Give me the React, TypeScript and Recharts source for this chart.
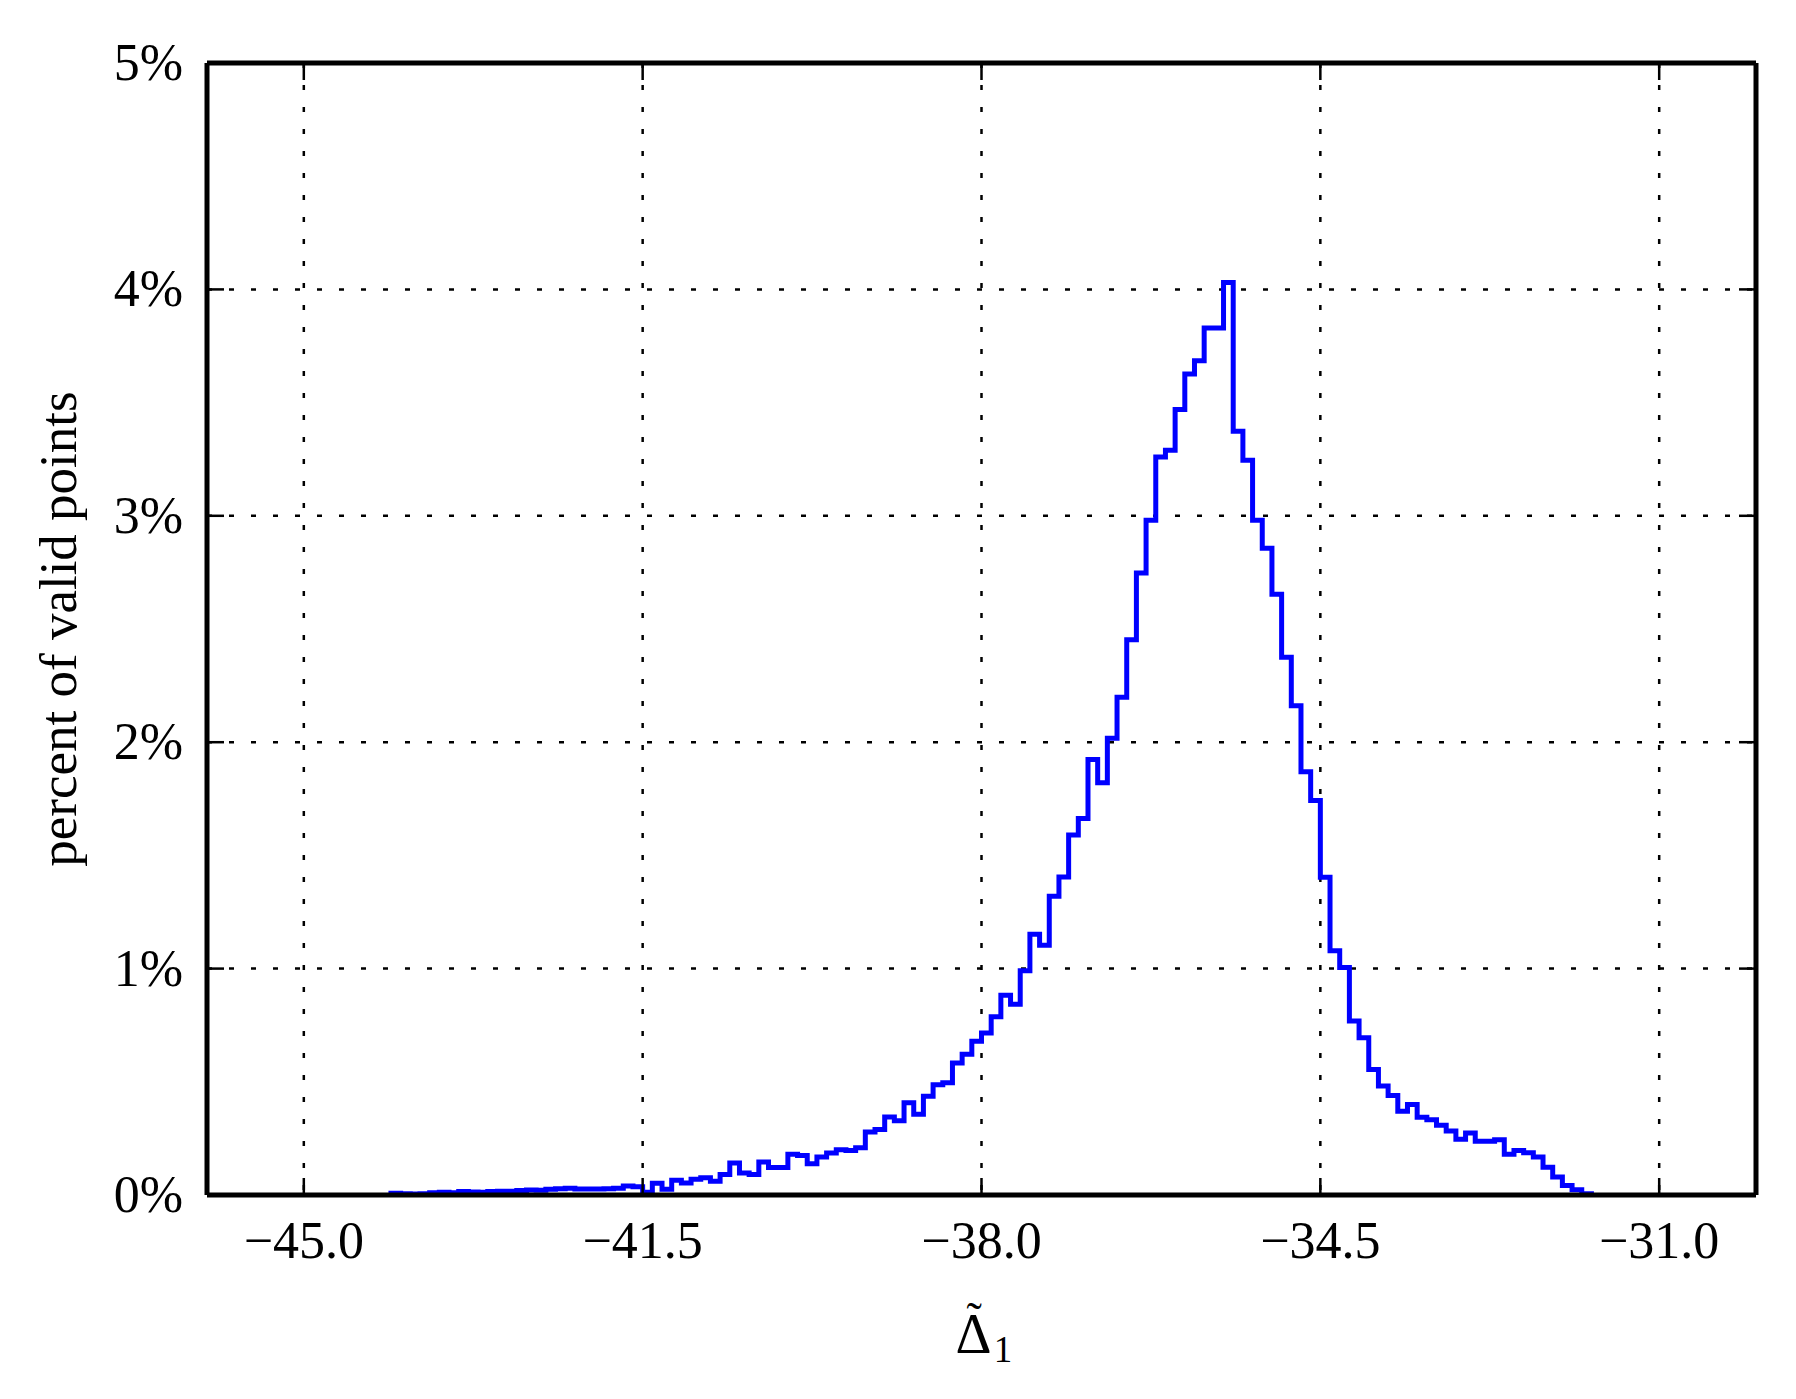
import React from 'react';
import { LineChart, Line, XAxis, YAxis, CartesianGrid } from 'recharts';

// Left edges of histogram bins (Δ̃1), bin width 0.1
const binStarts: number[] = [
  -44.1, -44.0, -43.9, -43.8, -43.7, -43.6, -43.5, -43.4, -43.3, -43.2,
  -43.1, -43.0, -42.9, -42.8, -42.7, -42.6, -42.5, -42.4, -42.3, -42.2,
  -42.1, -42.0, -41.9, -41.8, -41.7, -41.6, -41.5, -41.4, -41.3, -41.2,
  -41.1, -41.0, -40.9, -40.8, -40.7, -40.6, -40.5, -40.4, -40.3, -40.2,
  -40.1, -40.0, -39.9, -39.8, -39.7, -39.6, -39.5, -39.4, -39.3, -39.2,
  -39.1, -39.0, -38.9, -38.8, -38.7, -38.6, -38.5, -38.4, -38.3, -38.2,
  -38.1, -38.0, -37.9, -37.8, -37.7, -37.6, -37.5, -37.4, -37.3, -37.2,
  -37.1, -37.0, -36.9, -36.8, -36.7, -36.6, -36.5, -36.4, -36.3, -36.2,
  -36.1, -36.0, -35.9, -35.8, -35.7, -35.6, -35.5, -35.4, -35.3, -35.2,
  -35.1, -35.0, -34.9, -34.8, -34.7, -34.6, -34.5, -34.4, -34.3, -34.2,
  -34.1, -34.0, -33.9, -33.8, -33.7, -33.6, -33.5, -33.4, -33.3, -33.2,
  -33.1, -33.0, -32.9, -32.8, -32.7, -32.6, -32.5, -32.4, -32.3, -32.2,
  -32.1, -32.0, -31.9, -31.8,
];
const lastBinEnd = -31.7;

// Percent of valid points per bin
const percents: number[] = [
  0.008, 0.006, 0.004, 0.005, 0.010, 0.012, 0.010, 0.015, 0.013, 0.012,
  0.016, 0.017, 0.017, 0.020, 0.022, 0.021, 0.025, 0.028, 0.030, 0.027,
  0.026, 0.027, 0.028, 0.030, 0.040, 0.036, 0.012, 0.052, 0.025, 0.065,
  0.053, 0.070, 0.076, 0.061, 0.090, 0.141, 0.097, 0.090, 0.146, 0.121,
  0.121, 0.180, 0.175, 0.138, 0.168, 0.185, 0.200, 0.197, 0.209, 0.278,
  0.289, 0.344, 0.328, 0.407, 0.357, 0.436, 0.487, 0.496, 0.583, 0.622,
  0.679, 0.716, 0.787, 0.882, 0.843, 0.990, 1.152, 1.103, 1.320, 1.405,
  1.590, 1.663, 1.924, 1.821, 2.017, 2.198, 2.452, 2.747, 2.980, 3.260,
  3.290, 3.470, 3.626, 3.685, 3.830, 3.830, 4.030, 3.373, 3.245, 2.980,
  2.857, 2.653, 2.375, 2.161, 1.869, 1.743, 1.404, 1.079, 1.005, 0.769,
  0.695, 0.554, 0.481, 0.440, 0.370, 0.400, 0.343, 0.332, 0.308, 0.283,
  0.246, 0.274, 0.237, 0.237, 0.244, 0.180, 0.197, 0.187, 0.168, 0.123,
  0.079, 0.042, 0.023, 0.006,
];

const xTicks: number[] = [-45.0, -41.5, -38.0, -34.5, -31.0];
const yTicks: number[] = [0, 1, 2, 3, 4, 5];

const data = [
  { x: binStarts[0], y: 0 },
  ...binStarts.map((x, i) => ({ x, y: percents[i] })),
  { x: lastBinEnd, y: 0 },
];

const FONT = '"Liberation Serif", "DejaVu Serif", serif';
const TICK_LEN = 17;
const fmtX = (v: number) => v.toFixed(1).replace('-', '\u2212');

const BottomTick = (props: any) => {
  const { x, y, payload } = props;
  return (
    <g>
      <line x1={x} y1={y} x2={x} y2={y - TICK_LEN} stroke="#000" strokeWidth={2.5} />
      <text x={x} y={y + 63} textAnchor="middle" fontSize={52} fontFamily={FONT} fill="#000">
        {fmtX(payload.value)}
      </text>
    </g>
  );
};

const TopTick = (props: any) => {
  const { x, y } = props;
  return <line x1={x} y1={y} x2={x} y2={y + TICK_LEN} stroke="#000" strokeWidth={2.5} />;
};

const LeftTick = (props: any) => {
  const { x, y, payload } = props;
  return (
    <g>
      <line x1={x} y1={y} x2={x + TICK_LEN} y2={y} stroke="#000" strokeWidth={2.5} />
      <text x={x - 24} y={y + 17} textAnchor="end" fontSize={52} fontFamily={FONT} fill="#000">
        {`${payload.value}%`}
      </text>
    </g>
  );
};

const RightTick = (props: any) => {
  const { x, y } = props;
  return <line x1={x} y1={y} x2={x - TICK_LEN} y2={y} stroke="#000" strokeWidth={2.5} />;
};

const XLabel = (props: any) => {
  const vb = props.viewBox || { x: 207, y: 1195, width: 1549 };
  const cx = vb.x + vb.width / 2;
  const base = 1353;
  return (
    <text x={cx - 26} y={base} fontSize={56} fontFamily={FONT} fill="#000">
      {'\u0394'}
      <tspan fontSize={46} dx={-25} dy={-19}>{'\u02DC'}</tspan>
      <tspan fontSize={37} dx={12} dy={28}>1</tspan>
    </text>
  );
};

const YLabel = (props: any) => {
  const vb = props.viewBox || { x: 7, y: 63, height: 1132 };
  const cy = vb.y + vb.height / 2;
  const x = 76;
  return (
    <text
      x={x}
      y={cy}
      transform={`rotate(-90, ${x}, ${cy})`}
      textAnchor="middle"
      fontSize={53}
      fontFamily={FONT}
      fill="#000"
    >
      percent of valid points
    </text>
  );
};

export default function App() {
  return (
    <div style={{ position: 'fixed', left: 0, top: 0, width: 1796, height: 1399, overflow: 'hidden', background: '#fff' }}>
      <LineChart
        width={1796}
        height={1399}
        data={data}
        margin={{ top: 62, right: 39, bottom: 4, left: 7 }}
      >
        <CartesianGrid
          stroke="#000"
          strokeWidth={2.5}
          strokeDasharray="5 17"
          xAxisId="bottom"
          yAxisId="left"
        />
        <XAxis
          xAxisId="bottom"
          dataKey="x"
          type="number"
          domain={[-46, -30]}
          ticks={xTicks}
          allowDataOverflow
          orientation="bottom"
          height={200}
          tickSize={0}
          tickMargin={0}
          tickLine={false}
          axisLine={{ stroke: '#000', strokeWidth: 5 }}
          tick={<BottomTick />}
          interval={0}
          label={(p: any) => <XLabel {...p} />}
        />
        <XAxis
          xAxisId="top"
          dataKey="x"
          type="number"
          domain={[-46, -30]}
          ticks={xTicks}
          allowDataOverflow
          orientation="top"
          height={1}
          tickSize={0}
          tickMargin={0}
          tickLine={false}
          axisLine={{ stroke: '#000', strokeWidth: 5 }}
          tick={<TopTick />}
          interval={0}
        />
        <YAxis
          yAxisId="left"
          type="number"
          domain={[0, 5]}
          ticks={yTicks}
          allowDataOverflow
          orientation="left"
          width={200}
          tickSize={0}
          tickMargin={0}
          tickLine={false}
          axisLine={{ stroke: '#000', strokeWidth: 5 }}
          tick={<LeftTick />}
          interval={0}
          label={(p: any) => <YLabel {...p} />}
        />
        <YAxis
          yAxisId="right"
          type="number"
          domain={[0, 5]}
          ticks={yTicks}
          allowDataOverflow
          orientation="right"
          width={1}
          tickSize={0}
          tickMargin={0}
          tickLine={false}
          axisLine={{ stroke: '#000', strokeWidth: 5 }}
          tick={<RightTick />}
          interval={0}
        />
        <Line
          xAxisId="bottom"
          yAxisId="left"
          type="stepAfter"
          dataKey="y"
          stroke="#0000ff"
          strokeWidth={5}
          dot={false}
          activeDot={false}
          isAnimationActive={false}
        />
      </LineChart>
    </div>
  );
}
